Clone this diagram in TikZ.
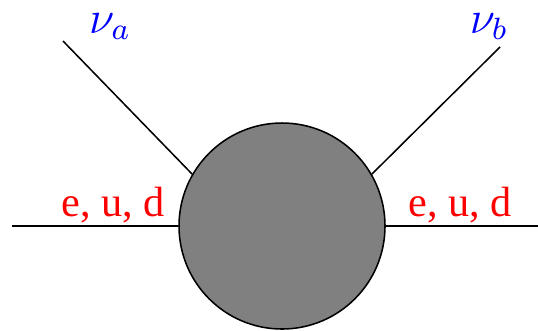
\documentclass[tikz,border=0pt]{standalone}
\usepackage{amsmath, amssymb}
\usepackage{fontspec}
\newfontfamily\timesfont{Liberation Serif}
\usepackage{tikz}
\usetikzlibrary{positioning}

\begin{document}
\begin{tikzpicture}[x=0.26pt, y=-0.26pt]
  \tikzset{blob/.style={circle, draw, fill=gray, inner sep=0pt, minimum size=53.56pt},
           nulabel/.style={blue, anchor=base, font=\large},
           flabel/.style={red, anchor=base, font=\timesfont\fontsize{11}{13}\selectfont}}
  \useasboundingbox (0,0) rectangle (538,330);
  % effective vertex
  \node[blob] (vertex) at (282,226) {};
  \coordinate (fin) at (12,226);
  \coordinate (fout) at (538,226);
  \coordinate (nuain) at (63,41);
  \coordinate (nubout) at (500,47);
  \draw (fin) -- (vertex.west);
  \draw (vertex.east) -- (fout);
  \draw (nuain) -- (vertex.150);
  \draw (vertex.30) -- (nubout);
  \node[nulabel] (nua) at (110,33) {$\nu_a$};
  \node[nulabel] (nub) at (489,33) {$\nu_b$};
  \node[flabel] (fleft) at (113,216) {e, u, d};
  \node[flabel] (fright) at (460,216) {e, u, d};
\end{tikzpicture}
\end{document}
